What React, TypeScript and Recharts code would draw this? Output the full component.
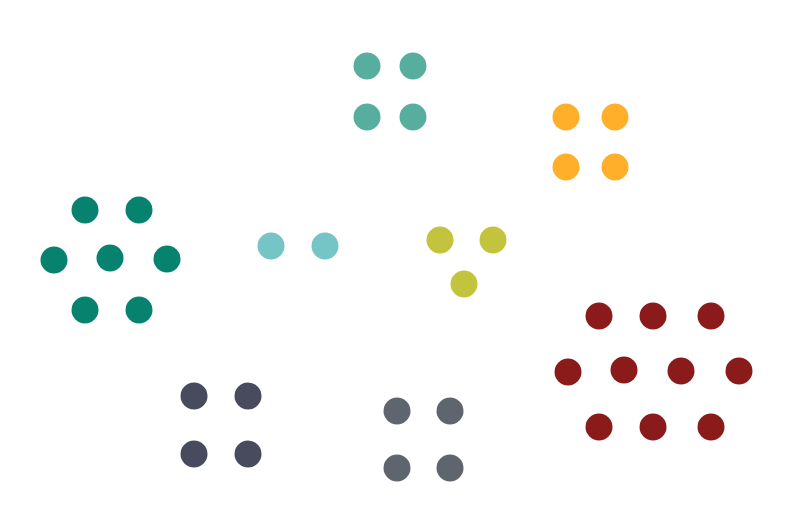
import { ScatterChart, Scatter, XAxis, YAxis } from "recharts"

// dot positions (x to the right, y downward)
const darkTeal = [
  { x: 85, y: 210 }, { x: 139, y: 210 },
  { x: 54, y: 260 }, { x: 110, y: 258 }, { x: 167, y: 259 },
  { x: 85, y: 310 }, { x: 139, y: 310 },
]
const lightTeal = [{ x: 271, y: 246 }, { x: 325, y: 246 }]
const seaGreen = [
  { x: 367, y: 66 }, { x: 413, y: 66 },
  { x: 367, y: 117 }, { x: 413, y: 117 },
]
const amber = [
  { x: 566, y: 117 }, { x: 615, y: 117 },
  { x: 566, y: 167 }, { x: 615, y: 167 },
]
const olive = [{ x: 440, y: 240 }, { x: 493, y: 240 }, { x: 464, y: 284 }]
const crimson = [
  { x: 599, y: 316 }, { x: 653, y: 316 }, { x: 711, y: 316 },
  { x: 568, y: 372 }, { x: 624, y: 370 }, { x: 681, y: 371 }, { x: 739, y: 371 },
  { x: 599, y: 427 }, { x: 653, y: 427 }, { x: 711, y: 427 },
]
const slate = [
  { x: 194, y: 396 }, { x: 248, y: 396 },
  { x: 194, y: 454 }, { x: 248, y: 454 },
]
const grey = [
  { x: 397, y: 411 }, { x: 450, y: 411 },
  { x: 397, y: 468 }, { x: 450, y: 468 },
]

const groups = [
  { name: "darkTeal", data: darkTeal, color: "#06826F" },
  { name: "lightTeal", data: lightTeal, color: "#75C4C6" },
  { name: "seaGreen", data: seaGreen, color: "#57AE9E" },
  { name: "amber", data: amber, color: "#FFAF2A" },
  { name: "olive", data: olive, color: "#C3C43D" },
  { name: "crimson", data: crimson, color: "#8B1A1A" },
  { name: "slate", data: slate, color: "#484B5E" },
  { name: "grey", data: grey, color: "#5F656E" },
]

const dot = (color: string) => (props: any) => (
  <circle cx={props.cx} cy={props.cy} r={13.5} fill={color} />
)

export default function App() {
  return (
    <div style={{ position: "absolute", left: 0, top: 0, background: "#fff" }}>
      <ScatterChart width={799} height={523} margin={{ top: 0, right: 0, bottom: 0, left: 0 }}>
        <XAxis type="number" dataKey="x" domain={[0, 799]} hide />
        <YAxis type="number" dataKey="y" domain={[0, 523]} reversed hide />
        {groups.map((g) => (
          <Scatter
            key={g.name}
            name={g.name}
            data={g.data}
            fill={g.color}
            shape={dot(g.color)}
            isAnimationActive={false}
          />
        ))}
      </ScatterChart>
    </div>
  )
}
